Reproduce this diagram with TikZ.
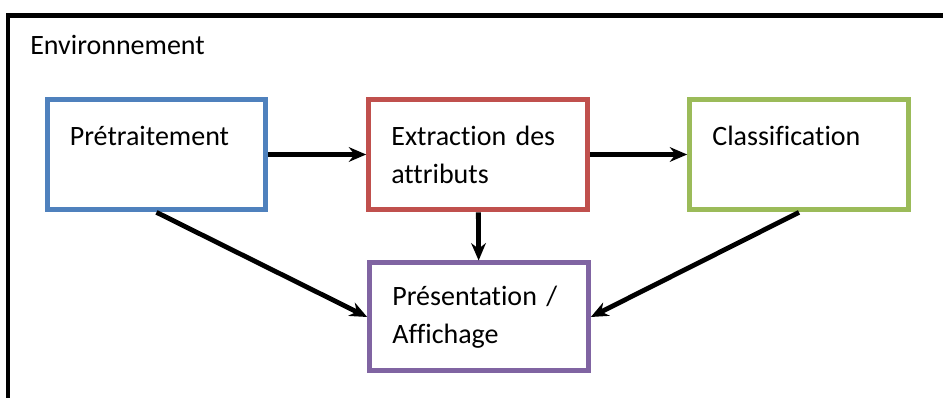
\documentclass[tikz,border=0pt]{standalone}
\usepackage{fontspec}
\setmainfont{Carlito}[Ligatures=NoCommon]
\usetikzlibrary{arrows.meta}

\definecolor{preblue}{HTML}{4F81BD}
\definecolor{extred}{HTML}{C0504D}
\definecolor{clsgreen}{HTML}{9BBB59}
\definecolor{prespurple}{HTML}{8064A2}

\begin{document}
\begin{tikzpicture}[
    x=0.75pt, y=-0.75pt,
    frame/.style={draw=black, line width=3.4pt},
    box/.style={rectangle, fill=white, line width=3.75pt, minimum width=164pt, minimum height=83pt, text width=130pt, inner xsep=17pt, align=left, font=\fontsize{21}{28.5}\selectfont},
    arrow/.style={-{Stealth[length=13pt,width=11pt]}, line width=3.6pt},
    envtext/.style={font=\fontsize{21}{24}\selectfont, anchor=base west, inner sep=0pt}
]
\useasboundingbox (0,0) rectangle (943,398);
\clip (0,0) rectangle (943,398);

% Environment frame
\draw[frame] (8,15.5) rectangle (990,450);
\node[envtext] (envlabel) at (30,55) {Environnement};

% Processing steps
\node[box, draw=preblue] (pre) at (156.5,154.5) {Prétraitement\\ \mbox{}};
\node[box, draw=extred] (ext) at (478,154.5) {Extraction des\\ attributs};
\node[box, draw=clsgreen] (cls) at (799,154.5) {Classification\\ \mbox{}};
\node[box, draw=prespurple, minimum height=81pt] (pres) at (479,317) {Présentation /\\ Affichage};

% Flow
\draw[arrow] (pre) -- (ext);
\draw[arrow] (ext) -- (cls);
\draw[arrow] (ext) -- (pres);
\draw[arrow] (pre.south) -- (pres.west);
\draw[arrow] (cls.south) -- (pres.east);

\end{tikzpicture}
\end{document}
